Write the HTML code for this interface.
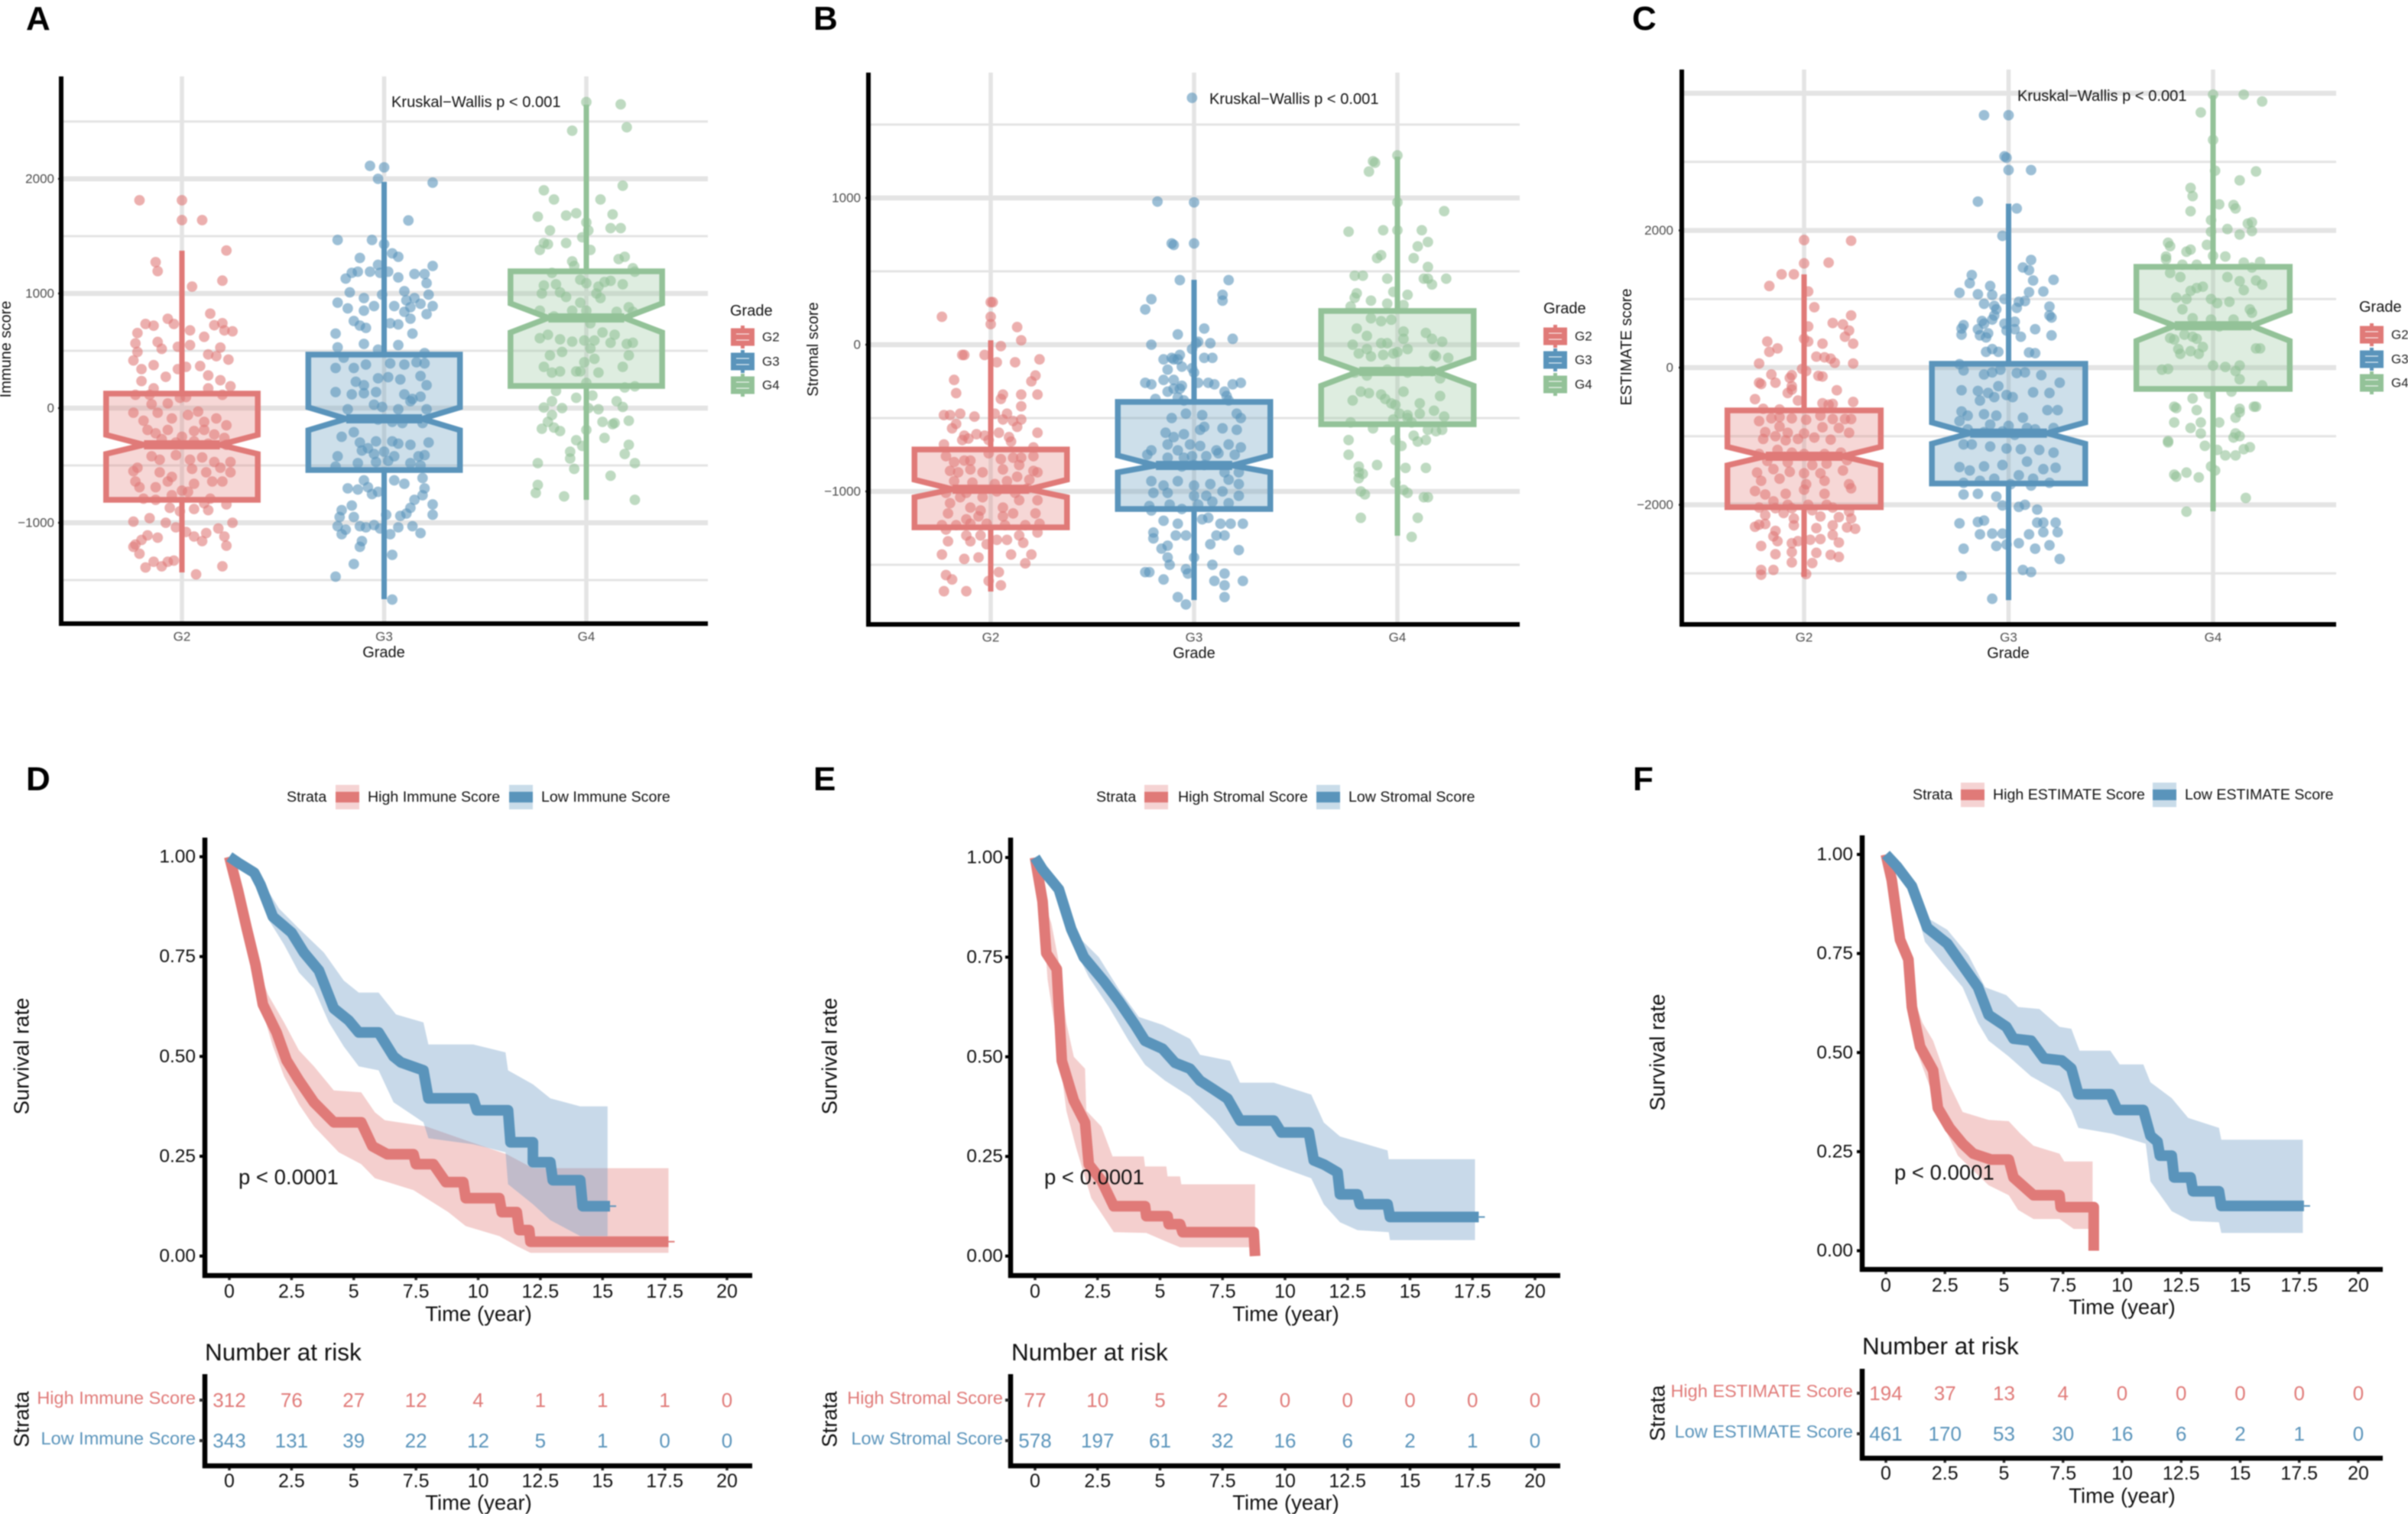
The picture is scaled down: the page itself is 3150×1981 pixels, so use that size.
<!DOCTYPE html>
<html lang="en">
<head>
<meta charset="utf-8">
<title>Immune, stromal and ESTIMATE scores by grade and survival</title>
<style>
html,body{margin:0;padding:0;background:#fff;width:3150px;height:1981px;overflow:hidden}
svg{display:block;filter:blur(0.7px)}
text{font-family:"Liberation Sans",Arial,sans-serif;dominant-baseline:central;fill:#000}
.letter{font-size:44px;font-weight:bold;dominant-baseline:auto}
.boxtitle{font-size:20px;fill:#111}
.kw{font-size:20.1px;fill:#111}
.km{font-size:27.5px;fill:#111}
.kmleg{font-size:19.6px;fill:#111}
.risk{font-size:31.5px;fill:#111}
.mid{text-anchor:middle}
</style>
</head>
<body>
<svg id="figure" xmlns="http://www.w3.org/2000/svg" width="3150" height="1981" viewBox="0 0 3150 1981">
<rect width="3150" height="1981" fill="#fff"/>
<g id="layer-charts"></g>
<g id="labels">
<text class="letter" x="34" y="39">A</text>
<text class="letter" x="1064" y="39">B</text>
<text class="letter" x="2135" y="39">C</text>
<text class="letter" x="34" y="1034">D</text>
<text class="letter" x="1064" y="1034">E</text>
<text class="letter" x="2136" y="1034">F</text>

<text class="boxtitle mid" transform="translate(8,457) rotate(-90)">Immune score</text>
<text class="boxtitle mid" transform="translate(1064,457) rotate(-90)">Stromal score</text>
<text class="boxtitle mid" transform="translate(2128,454) rotate(-90)">ESTIMATE score</text>
<text class="boxtitle mid" x="502" y="854">Grade</text>
<text class="boxtitle mid" x="1562" y="855">Grade</text>
<text class="boxtitle mid" x="2627" y="855">Grade</text>
<text class="kw" x="512" y="134">Kruskal−Wallis p &lt; 0.001</text>
<text class="kw" x="1582" y="130">Kruskal−Wallis p &lt; 0.001</text>
<text class="kw" x="2639" y="126">Kruskal−Wallis p &lt; 0.001</text>
<text class="boxtitle" x="955" y="407">Grade</text>
<text class="boxtitle" x="2019" y="404">Grade</text>
<text class="boxtitle" x="3086" y="402">Grade</text>

<text class="km mid" transform="translate(28,1382) rotate(-90)">Survival rate</text>
<text class="km mid" transform="translate(1085,1382) rotate(-90)">Survival rate</text>
<text class="km mid" transform="translate(2168,1377) rotate(-90)">Survival rate</text>
<text class="km mid" x="626" y="1719">Time (year)</text>
<text class="km mid" x="1682" y="1719">Time (year)</text>
<text class="km mid" x="2776" y="1710">Time (year)</text>
<text class="km mid" x="626" y="1966">Time (year)</text>
<text class="km mid" x="1682" y="1966">Time (year)</text>
<text class="km mid" x="2776" y="1957">Time (year)</text>
<text class="km" x="312" y="1540">p &lt; 0.0001</text>
<text class="km" x="1366" y="1540">p &lt; 0.0001</text>
<text class="km" x="2478" y="1534">p &lt; 0.0001</text>
<text class="risk" x="268" y="1769">Number at risk</text>
<text class="risk" x="1323" y="1769">Number at risk</text>
<text class="risk" x="2436" y="1761">Number at risk</text>
<text class="km mid" transform="translate(28,1857) rotate(-90)">Strata</text>
<text class="km mid" transform="translate(1085,1857) rotate(-90)">Strata</text>
<text class="km mid" transform="translate(2168,1849) rotate(-90)">Strata</text>

<text class="kmleg" x="375" y="1043">Strata</text>
<text class="kmleg" x="481" y="1043">High Immune Score</text>
<text class="kmleg" x="708" y="1043">Low Immune Score</text>
<text class="kmleg" x="1434" y="1043">Strata</text>
<text class="kmleg" x="1541" y="1043">High Stromal Score</text>
<text class="kmleg" x="1764" y="1043">Low Stromal Score</text>
<text class="kmleg" x="2502" y="1040">Strata</text>
<text class="kmleg" x="2607" y="1040">High ESTIMATE Score</text>
<text class="kmleg" x="2858" y="1040">Low ESTIMATE Score</text>
</g>
</svg>
<script>
// ---------- categories and tick labels ----------
const categories = ['G2','G3','G4'];
const immuneTicks = [2000,1000,0,-1000];
const immuneMinor = [2500,1500,500,-500,-1500];
const stromalTicks = [1000,0,-1000];
const stromalMinor = [1500,500,-500,-1500];
const estimateTicks = [2000,0,-2000];
const estimateGridMajor = [4000,2000,0,-2000];
const estimateMinor = [3000,1000,-1000,-3000];
const timeTicks = [0,2.5,5,7.5,10,12.5,15,17.5,20];
const survivalTicks = [1,0.75,0.5,0.25,0];

// ---------- box statistics (order G2,G3,G4) ----------
const immuneQ1 = [-800,-540,193];
const immuneMedian = [-320,-93,787];
const immuneQ3 = [127,467,1193];
const immuneNotchLow = [-400,-193,660];
const immuneNotchHigh = [-233,7,913];
const immuneWhiskerLow = [-1433,-1667,-800];
const immuneWhiskerHigh = [1373,1973,2647];

const stromalQ1 = [-1245,-1120,-542];
const stromalMedian = [-985,-823,-182];
const stromalQ3 = [-714,-390,230];
const stromalNotchLow = [-1040,-870,-280];
const stromalNotchHigh = [-920,-755,-90];
const stromalWhiskerLow = [-1682,-1740,-1302];
const stromalWhiskerHigh = [30,442,1281];

const estimateQ1 = [-2035,-1690,-310];
const estimateMedian = [-1292,-955,610];
const estimateQ3 = [-624,56,1470];
const estimateNotchLow = [-1425,-1110,390];
const estimateNotchHigh = [-1155,-800,825];
const estimateWhiskerLow = [-3050,-3390,-2095];
const estimateWhiskerHigh = [1360,2390,3970];

// ---------- jittered samples: [jitter % of category spacing, score] ----------
const immuneG2 = [[-21,1813],[0,1813],[0,1640],[10,1640],[22,1375],[-13,1273],[-12,1195],[5,1060],[20,1112],[14,824],[-18,734],[-14,719],[-7,779],[-4,734],[4,678],[16,723],[20,741],[21,678],[25,670],[-22,655],[-23,565],[-22,490],[-12,577],[-10,517],[-2,535],[4,550],[11,622],[19,528],[13,468],[17,453],[23,423],[-24,416],[-20,340],[-14,375],[-2,340],[2,360],[9,367],[13,285],[-20,236],[-8,273],[19,243],[24,191],[-14,172],[-23,116],[-16,116],[13,172],[2,97],[20,116],[-15,34],[-7,41],[-1,90],[-24,-40],[-19,-110],[-12,-40],[-5,-90],[3,-60],[8,-30],[11,-120],[17,-90],[22,-150],[-17,-190],[-13,-220],[-7,-190],[0,-250],[6,-200],[11,-190],[16,-230],[21,-260],[-10,-270],[-3,-300],[6,-290],[13,-310],[22,-320],[-22,-520],[-15,-420],[-11,-450],[-3,-410],[4,-450],[10,-430],[16,-470],[24,-470],[-24,-550],[-11,-560],[-5,-600],[5,-530],[12,-560],[19,-520],[24,-560],[-23,-640],[-21,-690],[-13,-690],[-7,-640],[0,-720],[6,-660],[15,-640],[20,-640],[-19,-790],[-13,-800],[-5,-760],[3,-730],[11,-830],[14,-790],[22,-840],[-6,-870],[-1,-900],[6,-880],[13,-890],[-24,-990],[-16,-960],[-8,-1000],[-3,-1040],[18,-1050],[25,-1000],[-23,-1190],[-20,-1150],[-17,-1110],[-12,-1130],[6,-1120],[12,-1090],[21,-1120],[22,-1200],[-24,-1210],[-21,-1270],[-18,-1390],[-14,-1340],[-10,-1380],[-7,-1340],[-4,-1330],[7,-1450],[20,-1380],[2,-1080],[10,-1160]];
const immuneG3 = [[-7,2113],[0,2100],[-3,2000],[24,1967],[12,1637],[-23,1467],[-6,1467],[0,1430],[4,1350],[7,1320],[-12,1310],[-3,1250],[24,1240],[-19,1130],[-16,1180],[-13,1190],[-7,1190],[-2,1180],[2,1190],[7,1140],[15,1170],[20,1170],[21,1090],[-17,1010],[-10,960],[-1,990],[10,1020],[11,940],[15,960],[22,990],[-23,920],[-18,870],[-10,850],[-5,890],[5,890],[10,840],[13,880],[18,910],[24,890],[21,820],[13,780],[-15,760],[-12,720],[-9,700],[3,740],[7,730],[-24,650],[14,650],[-10,560],[-23,530],[-3,510],[7,550],[20,480],[-20,440],[-15,350],[-24,350],[-9,380],[3,390],[10,380],[16,400],[20,390],[-14,230],[-10,200],[-3,260],[2,270],[8,250],[18,280],[21,200],[-24,140],[-16,120],[-10,130],[-4,140],[10,120],[14,80],[18,100],[-18,-10],[-5,30],[-1,10],[7,-10],[13,60],[21,-10],[-3,-100],[4,-120],[9,-130],[19,-130],[-21,-250],[-15,-210],[-12,-300],[-8,-350],[-4,-290],[4,-290],[7,-310],[13,-320],[22,-300],[-23,-420],[-11,-370],[-5,-400],[0,-380],[5,-420],[17,-420],[20,-410],[-24,-510],[-13,-480],[-4,-470],[2,-460],[13,-480],[18,-500],[-10,-630],[-8,-690],[-3,-730],[5,-630],[10,-660],[19,-610],[20,-700],[-18,-700],[-13,-710],[-6,-750],[-22,-950],[-16,-850],[-21,-890],[-15,-950],[-9,-1040],[-5,-1020],[1,-930],[8,-940],[11,-920],[24,-840],[24,-930],[19,-760],[15,-800],[13,-870],[-23,-1030],[-19,-1060],[-12,-1030],[-2,-1050],[3,-1100],[7,-1040],[14,-1030],[18,-1090],[-21,-1100],[-12,-1210],[-11,-1160],[4,-1280],[-15,-1360],[-24,-1470],[4,-1670]];
const immuneG4 = [[0,2670],[17,2650],[20,2450],[-7,2420],[18,1940],[-21,1900],[-16,1820],[7,1820],[-24,1670],[-10,1680],[-5,1700],[13,1690],[12,1570],[17,1570],[-18,1550],[0,1620],[1,1550],[-2,1490],[-21,1440],[-19,1430],[-10,1440],[2,1380],[-23,1380],[19,1320],[16,1300],[-7,1280],[-6,1240],[23,1220],[24,1190],[-17,1180],[-15,1080],[-21,1070],[-22,1000],[-13,1010],[-3,1120],[0,1090],[6,1060],[9,1100],[12,1110],[18,1080],[-10,970],[-3,920],[-7,850],[0,850],[5,1000],[7,960],[21,880],[23,840],[-23,850],[-16,800],[15,840],[2,740],[8,660],[14,640],[-19,640],[-23,610],[-13,600],[-7,580],[-1,590],[4,590],[12,570],[20,560],[23,570],[-18,460],[-12,490],[2,520],[21,460],[-21,360],[-17,310],[-13,320],[-5,320],[-3,320],[6,310],[18,360],[-1,400],[4,430],[0,220],[19,180],[24,190],[-15,150],[-5,90],[3,110],[-17,60],[-21,5],[-12,0],[1,0],[6,-10],[15,60],[18,10],[-17,-60],[-19,-120],[-16,-170],[-22,-180],[-13,-200],[0,-190],[8,-120],[13,-140],[14,-130],[21,-110],[-5,-280],[-2,-330],[-8,-380],[-8,-440],[9,-260],[21,-320],[19,-400],[-24,-480],[-6,-530],[12,-590],[24,-480],[-24,-670],[-25,-740],[-11,-770],[24,-800]];

const stromalG2 = [[0,290],[-24,190],[1,290],[0,190],[0,140],[13,120],[15,30],[5,-10],[-14,-70],[-13,-70],[-3,-70],[3,-120],[12,-120],[24,-100],[22,-210],[-18,-240],[20,-250],[-17,-330],[6,-340],[5,-370],[15,-340],[23,-340],[15,-420],[-23,-480],[-20,-480],[-15,-470],[-8,-490],[2,-470],[6,-510],[8,-470],[11,-520],[15,-510],[-19,-570],[-17,-540],[-13,-620],[-7,-610],[-3,-620],[4,-600],[9,-630],[13,-560],[23,-600],[-23,-680],[-14,-650],[-11,-640],[-1,-650],[10,-660],[21,-700],[-22,-760],[-18,-800],[-13,-790],[-10,-790],[-1,-740],[5,-780],[11,-770],[15,-770],[21,-760],[-20,-860],[-16,-870],[-10,-850],[-4,-870],[6,-850],[14,-820],[21,-860],[23,-870],[-18,-930],[-9,-940],[2,-950],[8,-930],[13,-900],[19,-920],[-22,-1010],[-15,-1040],[-12,-1010],[-4,-1040],[3,-1000],[12,-1010],[18,-980],[-20,-1080],[-10,-1110],[-5,-1130],[6,-1110],[14,-1060],[23,-1060],[-21,-1150],[-12,-1190],[-6,-1170],[6,-1170],[11,-1150],[22,-1150],[-24,-1230],[-17,-1230],[-10,-1220],[-2,-1220],[7,-1230],[17,-1230],[24,-1220],[-22,-1260],[-12,-1300],[-5,-1300],[3,-1330],[14,-1300],[23,-1280],[-21,-1340],[-10,-1340],[-2,-1360],[8,-1330],[16,-1350],[-24,-1430],[-13,-1460],[-6,-1450],[10,-1430],[20,-1430],[17,-1490],[-22,-1570],[-19,-1600],[-1,-1610],[4,-1550],[5,-1640],[-23,-1680],[-12,-1680]];
const stromalG3 = [[-1,1682],[-18,975],[0,970],[-11,690],[-10,680],[0,690],[-7,440],[17,440],[14,340],[14,300],[-21,310],[-24,240],[-8,70],[5,110],[19,40],[2,20],[1,10],[8,10],[-21,0],[-15,-100],[-11,-90],[-10,-100],[-8,-100],[-7,-70],[-1,-30],[5,-90],[9,-90],[-13,-170],[-6,-150],[-1,-160],[0,-190],[-24,-260],[-21,-270],[-15,-240],[-10,-240],[-6,-280],[2,-260],[7,-260],[10,-270],[19,-270],[23,-260],[-13,-320],[-10,-300],[-7,-300],[15,-320],[16,-350],[-19,-370],[-8,-360],[-5,-380],[17,-380],[-11,-500],[-4,-470],[4,-480],[21,-470],[23,-500],[-14,-600],[-10,-630],[-5,-610],[3,-580],[5,-560],[14,-570],[21,-580],[-21,-720],[-13,-680],[-8,-720],[-2,-680],[3,-690],[11,-720],[17,-680],[23,-700],[-23,-750],[-13,-770],[-5,-770],[-1,-760],[6,-760],[12,-740],[20,-750],[-6,-830],[0,-820],[5,-820],[15,-870],[22,-870],[-21,-930],[-15,-960],[-8,-930],[0,-960],[8,-950],[17,-920],[22,-950],[-20,-1010],[-13,-1010],[0,-1030],[6,-1030],[14,-1000],[22,-1030],[-22,-1100],[-12,-1090],[-6,-1120],[2,-1090],[9,-1070],[17,-1080],[-21,-1130],[-15,-1200],[-8,-1220],[4,-1190],[7,-1180],[13,-1220],[18,-1220],[24,-1220],[-20,-1280],[-9,-1300],[-4,-1300],[11,-1300],[15,-1300],[-20,-1320],[-13,-1370],[-16,-1390],[0,-1450],[8,-1360],[22,-1400],[-13,-1450],[-12,-1500],[-24,-1550],[-22,-1550],[-15,-1600],[-4,-1530],[-3,-1560],[9,-1500],[10,-1610],[15,-1560],[15,-1640],[24,-1610],[-8,-1720],[15,-1720],[-4,-1770]];
const stromalG4 = [[0,1290],[-12,1250],[-11,1240],[-14,1180],[0,970],[23,910],[-24,770],[-7,780],[0,780],[12,780],[15,700],[10,670],[-8,610],[-10,590],[8,590],[15,530],[-21,470],[-17,470],[-5,450],[13,450],[15,450],[17,410],[24,450],[-20,350],[-21,320],[-2,360],[5,340],[-13,300],[-5,280],[3,270],[-23,260],[-13,180],[-3,170],[-20,110],[-15,60],[-8,160],[-22,0],[-15,-30],[-8,10],[-5,10],[0,-50],[3,90],[3,40],[14,80],[17,40],[22,20],[-19,-60],[-13,-80],[-7,-70],[-2,-60],[5,-30],[18,-70],[25,-90],[19,-80],[-21,-190],[-15,-210],[-5,-170],[5,-190],[12,-180],[17,-180],[21,-230],[-18,-320],[-8,-340],[-6,-370],[-14,-330],[-3,-400],[3,-320],[-22,-380],[11,-400],[-1,-410],[21,-350],[1,-470],[5,-480],[11,-470],[18,-450],[23,-490],[5,-500],[-23,-530],[-12,-570],[-2,-510],[7,-530],[15,-580],[19,-590],[22,-580],[-1,-650],[8,-620],[10,-660],[14,-650],[-24,-650],[-24,-750],[2,-690],[-19,-830],[-10,-820],[4,-840],[14,-840],[-19,-870],[-19,-910],[-17,-880],[3,-990],[5,-1010],[13,-1040],[15,-1040],[-16,-1020],[-18,-1000],[-1,-940],[-18,-1180],[10,-1180],[7,-1310]];

const estimateG2 = [[0,1860],[23,1850],[0,1520],[12,1530],[-11,1360],[-5,1360],[-17,1190],[2,1110],[5,880],[23,760],[14,650],[19,630],[2,600],[-18,380],[22,540],[20,450],[24,350],[0,420],[2,380],[9,350],[-13,280],[-17,230],[10,150],[6,160],[13,130],[15,70],[24,60],[-22,60],[-16,-100],[-22,-220],[-21,-240],[-14,-220],[-6,-110],[-7,-150],[-1,-20],[1,-50],[7,-120],[9,-130],[-6,-270],[16,-330],[-6,-320],[-8,-370],[-24,-460],[-20,-600],[-12,-610],[-3,-480],[9,-520],[12,-540],[14,-530],[24,-500],[-22,-780],[-16,-740],[-12,-720],[-6,-740],[1,-760],[8,-700],[14,-750],[20,-750],[23,-750],[-19,-940],[-12,-860],[-8,-950],[0,-960],[9,-870],[17,-880],[22,-950],[-20,-1040],[-14,-1000],[-9,-1060],[-3,-1040],[5,-1020],[13,-1050],[-22,-1260],[-13,-1200],[-6,-1240],[0,-1260],[10,-1260],[18,-1240],[-18,-1360],[-8,-1380],[4,-1420],[11,-1400],[21,-1350],[-23,-1530],[-15,-1480],[-7,-1520],[0,-1540],[8,-1540],[19,-1500],[-21,-1650],[-12,-1620],[1,-1700],[10,-1650],[22,-1700],[-24,-1800],[-19,-1850],[-9,-1840],[0,-1780],[10,-1840],[23,-1760],[-15,-1950],[-8,-2000],[2,-2000],[11,-2000],[-22,-2040],[-14,-2050],[-6,-2050],[4,-2080],[14,-2040],[22,-2100],[-19,-2150],[-10,-2120],[-5,-2200],[8,-2170],[17,-2180],[23,-2200],[-24,-2320],[-22,-2290],[-19,-2280],[-14,-2380],[-5,-2300],[6,-2340],[14,-2300],[21,-2330],[25,-2350],[-15,-2460],[-13,-2530],[-6,-2560],[-3,-2530],[3,-2510],[8,-2500],[14,-2440],[17,-2550],[-21,-2600],[-14,-2720],[-6,-2690],[6,-2700],[13,-2730],[17,-2760],[-21,-2950],[-21,-3020],[-15,-2950],[-6,-2840],[4,-2850],[1,-3010]];
const estimateG3 = [[-12,3680],[0,3680],[-1,3060],[-2,3080],[0,2880],[11,2880],[-15,2420],[4,2320],[-3,1920],[11,1570],[7,1460],[10,1420],[12,1270],[22,1280],[-18,1350],[-19,1230],[-24,1090],[-15,1070],[-9,1190],[-8,1060],[10,1100],[17,1110],[-12,930],[-7,900],[-6,850],[-2,1000],[5,960],[8,970],[4,870],[20,890],[20,760],[21,730],[-7,760],[-13,680],[-12,640],[-22,620],[-8,700],[-2,640],[3,670],[-23,570],[-15,560],[-10,500],[-14,470],[-23,480],[-11,440],[-1,540],[3,560],[13,560],[21,470],[6,450],[-5,230],[-11,230],[-8,270],[10,220],[13,210],[-24,50],[-22,-40],[-12,-100],[-8,-70],[-4,-30],[4,-80],[8,-70],[16,-110],[25,-220],[-23,-330],[-15,-340],[-10,-370],[-5,-270],[-1,-400],[12,-360],[20,-370],[-14,-480],[-7,-430],[2,-430],[-23,-640],[-20,-700],[-12,-680],[-6,-700],[7,-730],[19,-620],[24,-620],[-24,-780],[-9,-830],[0,-850],[9,-880],[-20,-900],[-12,-940],[-3,-930],[3,-980],[13,-900],[22,-880],[-22,-1120],[-18,-1120],[-9,-1150],[-1,-1180],[6,-1190],[15,-1200],[22,-1240],[-24,-1450],[-19,-1500],[-12,-1440],[-3,-1420],[9,-1370],[17,-1480],[23,-1460],[-22,-1680],[-14,-1650],[-7,-1620],[5,-1570],[12,-1620],[20,-1680],[-22,-1850],[-15,-1840],[-6,-1880],[1,-1700],[11,-1720],[-24,-2270],[-12,-2230],[-15,-2250],[-3,-2010],[5,-2030],[8,-2000],[14,-2070],[14,-2260],[17,-2260],[-14,-2430],[-8,-2420],[-3,-2420],[10,-2430],[17,-2400],[23,-2260],[24,-2400],[-22,-2640],[-6,-2600],[-1,-2580],[5,-2560],[13,-2640],[20,-2590],[25,-2790],[-23,-3040],[7,-2950],[11,-2980],[-8,-3370]];
const estimateG4 = [[0,3980],[15,3980],[24,3880],[-6,3720],[0,3320],[1,2870],[13,2730],[21,2860],[-11,2620],[-10,2500],[-11,2280],[3,2380],[10,2370],[11,2320],[-1,2150],[17,2100],[19,2120],[-1,1980],[7,2020],[13,1940],[19,1990],[-22,1820],[-21,1770],[-11,1720],[-13,1690],[-3,1790],[0,1630],[6,1620],[-23,1620],[-23,1580],[-15,1500],[-8,1500],[15,1530],[23,1540],[19,1460],[-21,1380],[-16,1320],[7,1320],[13,1260],[21,1270],[24,1210],[-5,1180],[-8,1160],[-11,1120],[15,1130],[-18,1020],[-13,1000],[2,940],[8,960],[-1,1000],[-15,850],[18,850],[19,800],[-10,720],[-1,700],[3,600],[10,700],[-19,410],[-21,430],[-14,480],[-10,450],[-8,420],[-5,300],[-17,270],[-16,200],[-11,240],[-7,200],[0,30],[6,10],[13,30],[11,-50],[21,280],[23,280],[-25,-30],[-22,-20],[13,-170],[24,-260],[-2,-380],[9,-350],[-10,-450],[13,-600],[-19,-570],[-18,-590],[11,-730],[13,-650],[-8,-620],[20,-570],[21,-570],[-19,-800],[-6,-800],[-11,-880],[-6,-960],[3,-800],[10,-1020],[11,-960],[13,-1000],[-22,-1070],[-22,-1090],[-4,-1140],[2,-1200],[6,-1280],[11,-1280],[15,-1190],[18,-1160],[1,-1500],[-19,-1560],[-18,-1590],[-7,-1600],[-13,-1530],[-1,-1440],[16,-1900],[-13,-2100]];

// ---------- survival curves: [time in years, survival] ----------
const immuneHigh = [[0,1],[.35,.915],[.7,.82],[1.05,.73],[1.35,.63],[1.9,.56],[2.3,.49],[2.8,.44],[3.4,.385],[4.2,.335],[5.3,.335],[5.75,.275],[6.35,.255],[7.4,.255],[7.5,.23],[8.2,.23],[8.7,.185],[9.4,.185],[9.5,.145],[10.85,.145],[10.95,.11],[11.55,.11],[11.65,.065],[12.05,.065],[12.1,.036],[17.65,.036]];
const immuneHighUpper = [[0,1],[.35,.92],[.7,.83],[1.05,.74],[1.55,.655],[2.2,.585],[2.8,.515],[3.4,.475],[4.2,.415],[5.3,.41],[5.85,.36],[6.25,.34],[7.9,.325],[9.5,.29],[11.15,.255],[12.2,.22],[17.65,.22]];
const immuneHighLower = [[0,1],[.35,.91],[.7,.81],[1.05,.72],[1.35,.61],[1.75,.525],[2.2,.45],[2.8,.38],[3.4,.325],[4.4,.26],[5.3,.23],[5.85,.195],[7.4,.165],[8.8,.11],[9.5,.075],[10.85,.05],[11.55,.025],[12.1,.008],[17.65,.008]];
const immuneLow = [[0,1],[.35,.985],[1,.96],[1.25,.93],[1.75,.85],[2.5,.81],[3,.76],[3.6,.715],[4.2,.62],[4.8,.59],[5.2,.56],[6,.56],[6.6,.5],[6.9,.485],[7.8,.465],[8,.395],[9.8,.395],[9.95,.365],[11.2,.365],[11.3,.285],[12.2,.285],[12.2,.235],[12.9,.235],[13,.19],[14.1,.19],[14.2,.125],[15.3,.125]];
const immuneLowUpper = [[0,1],[1,.97],[1.25,.945],[2,.87],[2.8,.82],[3.8,.76],[4.6,.69],[5.2,.66],[6,.66],[6.7,.605],[7.8,.585],[8,.53],[9.8,.53],[11.1,.51],[11.2,.465],[12.2,.43],[12.9,.395],[14.1,.375],[15.2,.375]];
const immuneLowLower = [[0,1],[1,.95],[1.6,.84],[2.2,.78],[2.8,.71],[3.4,.67],[4,.585],[4.6,.525],[5.2,.475],[6,.465],[6.6,.385],[7.8,.335],[8,.295],[9.8,.28],[11.1,.26],[11.2,.18],[12.2,.13],[12.9,.09],[14.1,.05],[15.2,.05]];

const stromalHigh = [[0,1],[.3,.89],[.45,.76],[.87,.72],[1.07,.49],[1.55,.39],[2,.335],[2.15,.23],[2.65,.19],[3.15,.125],[4.4,.125],[4.45,.1],[5.3,.1],[5.35,.08],[5.8,.08],[5.9,.06],[8.75,.06],[8.8,0]];
const stromalHighUpper = [[0,1],[.3,.9],[.65,.835],[.93,.745],[1.25,.585],[1.55,.5],[2,.47],[2.05,.365],[2.65,.325],[3.1,.25],[4.35,.25],[4.4,.225],[5.25,.225],[5.3,.2],[5.8,.2],[5.85,.18],[8.8,.18]];
const stromalHighLower = [[0,1],[.3,.88],[.5,.695],[1.03,.475],[1.25,.365],[1.65,.27],[2.25,.145],[2.75,.098],[3.15,.06],[4.45,.058],[5.3,.035],[5.8,.022],[8.8,.022]];
const stromalLow = [[0,1],[.3,.97],[.95,.92],[1.45,.82],[1.95,.75],[2.75,.69],[3.35,.64],[4,.58],[4.4,.54],[5.1,.52],[5.6,.485],[6.2,.47],[6.6,.44],[7.1,.42],[7.7,.395],[8.2,.34],[9.55,.34],[9.85,.31],[10.95,.31],[11.15,.24],[11.55,.23],[12.1,.21],[12.2,.155],[12.9,.155],[13,.13],[14.1,.13],[14.2,.098],[17.75,.098]];
const stromalLowUpper = [[0,1],[.95,.93],[1.75,.8],[2.55,.75],[3.35,.67],[4.15,.6],[5.1,.58],[6.2,.545],[6.6,.505],[7.8,.49],[8.2,.435],[9.55,.435],[11.05,.405],[11.55,.335],[12.2,.3],[14.1,.265],[14.15,.243],[17.6,.243]];
const stromalLowLower = [[0,1],[.95,.91],[1.45,.79],[2.15,.7],[2.95,.625],[3.75,.54],[4.4,.48],[5.2,.44],[6.2,.4],[7.2,.34],[8.2,.265],[9.75,.225],[11.05,.195],[11.55,.13],[12.2,.085],[12.9,.065],[14.15,.06],[14.2,.04],[17.6,.04]];

const estimateHigh = [[0,1],[.25,.935],[.6,.785],[.95,.735],[1.1,.615],[1.45,.515],[2,.455],[2.2,.36],[2.7,.31],[3.25,.27],[3.7,.245],[4.45,.23],[5.2,.23],[5.4,.185],[6.25,.14],[7.35,.14],[7.4,.11],[8.8,.11],[8.8,0]];
const estimateHighUpper = [[0,1],[.6,.8],[.95,.74],[1.1,.65],[1.55,.575],[2,.53],[2.6,.43],[3.25,.35],[4.35,.33],[5.2,.327],[5.7,.295],[6.25,.265],[7.35,.245],[7.55,.225],[8.75,.225]];
const estimateHighLower = [[0,1],[.6,.77],[.95,.72],[1.3,.505],[1.85,.415],[2.4,.32],[3.05,.24],[4.35,.165],[5.2,.14],[5.6,.103],[6.25,.08],[7.35,.08],[7.95,.055],[8.75,.055]];
const estimateLow = [[0,1],[.47,.97],[1.1,.92],[1.75,.815],[2.6,.775],[3.25,.72],[3.9,.665],[4.35,.595],[5.1,.565],[5.4,.535],[6.15,.53],[6.7,.485],[7.45,.48],[7.85,.46],[8.15,.395],[9.5,.395],[9.8,.355],[10.9,.355],[11.2,.29],[11.5,.275],[11.6,.24],[12.1,.24],[12.2,.185],[12.9,.185],[13,.15],[14.1,.15],[14.2,.113],[17.7,.113]];
const estimateLowUpper = [[0,1],[1.1,.93],[1.75,.84],[2.6,.81],[3.5,.745],[4.2,.665],[5.1,.645],[5.6,.615],[6.5,.61],[7.35,.565],[7.85,.56],[8.2,.505],[9.5,.505],[9.9,.47],[10.9,.47],[11.2,.425],[12.1,.385],[12.8,.335],[14.1,.31],[14.2,.28],[17.65,.28]];
const estimateLowLower = [[0,1],[1.1,.91],[1.65,.78],[2.4,.725],[3.25,.665],[3.9,.575],[4.35,.53],[5.2,.49],[6.15,.44],[7.35,.4],[7.85,.355],[8.15,.31],[9.6,.295],[11,.27],[11.2,.175],[12.1,.1],[12.9,.075],[14.1,.072],[14.2,.045],[17.65,.045]];

// ---------- number at risk ----------
const immuneHighRisk = [312,76,27,12,4,1,1,1,0];
const immuneLowRisk = [343,131,39,22,12,5,1,0,0];
const stromalHighRisk = [77,10,5,2,0,0,0,0,0];
const stromalLowRisk = [578,197,61,32,16,6,2,1,0];
const estimateHighRisk = [194,37,13,4,0,0,0,0,0];
const estimateLowRisk = [461,170,53,30,16,6,2,1,0];

// ---------- drawing ----------
const NS = 'http://www.w3.org/2000/svg';
const root = document.getElementById('layer-charts');
const RED = '#E07A78', BLUE = '#5A94BB', GREEN = '#93C298';
const GROUP_COLORS = [RED, BLUE, GREEN];
const GRID = '#E4E4E4';

function make(tag, attrs, parent) {
  const el = document.createElementNS(NS, tag);
  for (const k in attrs) el.setAttribute(k, attrs[k]);
  parent.appendChild(el);
  return el;
}
function label(parent, name, x, y, str, size, fill, anchor) {
  const el = make('text', {x: x, y: y, 'font-size': size, 'text-anchor': anchor || 'middle'}, parent);
  el.style.fill = fill;
  el.textContent = str;
  
  
  return el;
}
function rule(parent, name, x1, y1, x2, y2, stroke, width) {
  const el = make('line', {x1: x1, y1: y1, x2: x2, y2: y2, stroke: stroke, 'stroke-width': width}, parent);
  
  
  return el;
}

function drawBoxPanel(p) {
  const g = make('g', {}, root);
  
  
  const yPos = v => p.yZero - v * p.pxPerUnit;
  const xPos = i => p.xFirst + i * p.catStep;

  p.minor.forEach(v => rule(g, p.id + '-gridline-minor', p.left, yPos(v), p.right, yPos(v), GRID, 3));
  p.major.forEach(v => rule(g, p.id + '-gridline-major', p.left, yPos(v), p.right, yPos(v), GRID, 6.5));
  categories.forEach((c, i) => rule(g, p.id + '-gridline-' + c, xPos(i), p.top, xPos(i), p.axisY, GRID, 5.5));

  p.samples.forEach((pts, i) => {
    pts.forEach(pt => {
      const dot = make('circle', {cx: xPos(i) + pt[0] / 100 * p.catStep, cy: yPos(pt[1]), r: 6.9, fill: GROUP_COLORS[i], 'fill-opacity': 0.6}, g);
      
      
    });
  });

  categories.forEach((c, i) => {
    const col = GROUP_COLORS[i], cx = xPos(i), hw = 0.375 * p.catStep, nw = hw / 2;
    rule(g, p.id + '-whisker-high-' + c, cx, yPos(p.whiskerHigh[i]), cx, yPos(p.q3[i]), col, 7);
    rule(g, p.id + '-whisker-low-' + c, cx, yPos(p.q1[i]), cx, yPos(p.whiskerLow[i]), col, 7);
    const pts = [
      [cx - hw, yPos(p.q3[i])], [cx + hw, yPos(p.q3[i])], [cx + hw, yPos(p.notchHigh[i])],
      [cx + nw, yPos(p.median[i])], [cx + hw, yPos(p.notchLow[i])], [cx + hw, yPos(p.q1[i])],
      [cx - hw, yPos(p.q1[i])], [cx - hw, yPos(p.notchLow[i])], [cx - nw, yPos(p.median[i])],
      [cx - hw, yPos(p.notchHigh[i])]
    ].map(a => a.join(',')).join(' ');
    const box = make('polygon', {points: pts, fill: col, 'fill-opacity': 0.3, stroke: col, 'stroke-width': 7.5, 'stroke-linejoin': 'miter'}, g);
    
    
    rule(g, p.id + '-median-' + c, cx - nw, yPos(p.median[i]), cx + nw, yPos(p.median[i]), col, 12);
    label(g, p.id + '-x-tick-label-' + c, cx, p.axisY + 17, c, 17, '#4D4D4D');
  });

  p.ticks.forEach(v => {
    rule(g, p.id + '-y-tick', p.left - 6, yPos(v), p.left - 2, yPos(v), '#333', 2.5);
    label(g, p.id + '-y-tick-label', p.tickRight, yPos(v), String(v).replace('-', '\u2212'), 17, '#4D4D4D', 'end');
  });
  rule(g, p.id + '-y-axis', p.left - 2, p.top, p.left - 2, p.axisY + 3, '#000', 6);
  rule(g, p.id + '-x-axis', p.left - 5, p.axisY, p.right, p.axisY, '#000', 6);

  categories.forEach((c, i) => {
    const col = GROUP_COLORS[i], ky = p.legendY[i];
    const key = make('rect', {x: p.legendX, y: ky - 11.5, width: 31, height: 23, fill: col}, g);
    
    
    rule(g, p.id + '-legend-key-whisker-' + c, p.legendX + 15.5, ky - 15, p.legendX + 15.5, ky + 15, col, 5);
    rule(g, p.id + '-legend-key-line-' + c, p.legendX + 7, ky - 4, p.legendX + 24, ky - 4, '#fff', 1);
    rule(g, p.id + '-legend-key-line-' + c, p.legendX + 7, ky + 4, p.legendX + 24, ky + 4, '#fff', 1);
    label(g, p.id + '-legend-label-' + c, p.legendX + 41, ky, c, 17, '#222', 'start');
  });
}

function pathFrom(points, xPos, yPos) {
  return points.map((a, i) => (i ? 'L' : 'M') + xPos(a[0]).toFixed(1) + ' ' + yPos(a[1]).toFixed(1)).join('');
}

function drawKmPanel(p) {
  const g = make('g', {}, root);
  
  
  const xPos = t => p.xZero + t * p.pxPerYear;
  const yPos = s => p.yZero - s * (p.yZero - p.yOne);
  const strata = [
    {key: 'high', color: RED, line: p.high, upper: p.highUpper, lower: p.highLower, risk: p.highRisk, name: p.highName, row: p.rowHigh},
    {key: 'low', color: BLUE, line: p.low, upper: p.lowUpper, lower: p.lowLower, risk: p.lowRisk, name: p.lowName, row: p.rowLow}
  ];
  strata.forEach(s => {
    const d = pathFrom(s.upper, xPos, yPos) + pathFrom(s.lower.slice().reverse(), xPos, yPos).replace('M', 'L') + 'Z';
    const band = make('path', {d: d, fill: s.key === 'high' ? '#E07A78' : '#6F9CC4', 'fill-opacity': s.key === 'high' ? 0.36 : 0.38}, g);
    
    
  });
  strata.forEach(s => {
    const curve = make('path', {d: pathFrom(s.line, xPos, yPos), fill: 'none', stroke: s.color, 'stroke-width': 14, 'stroke-linejoin': 'round'}, g);
    
    
    const end = s.line[s.line.length - 1];
    if (end[1] > 0) rule(g, p.id + '-censor-mark-' + s.key, xPos(end[0]), yPos(end[1]), xPos(end[0]) + 8, yPos(end[1]), s.color, 2);
  });

  survivalTicks.forEach(v => {
    rule(g, p.id + '-y-tick', p.left - 7, yPos(v), p.left - 2, yPos(v), '#000', 4);
    label(g, p.id + '-y-tick-label', p.labelRight, yPos(v), v.toFixed(2), 24.5, '#111', 'end');
  });
  timeTicks.forEach(t => {
    rule(g, p.id + '-x-tick', xPos(t), p.axisY, xPos(t), p.axisY + 6, '#333', 3.5);
    label(g, p.id + '-x-tick-label', xPos(t), p.axisY + 21, String(t), 25, '#111');
    rule(g, p.id + '-risk-x-tick', xPos(t), p.riskAxis, xPos(t), p.riskAxis + 6, '#333', 3.5);
    label(g, p.id + '-risk-x-tick-label', xPos(t), p.riskAxis + 20, String(t), 25, '#111');
  });
  rule(g, p.id + '-y-axis', p.left, p.top, p.left, p.axisY + 3, '#000', 6.5);
  rule(g, p.id + '-x-axis', p.left - 3, p.axisY, p.right, p.axisY, '#000', 6.5);
  rule(g, p.id + '-risk-y-axis', p.left, p.riskTop, p.left, p.riskAxis + 3, '#000', 6.5);
  rule(g, p.id + '-risk-x-axis', p.left - 3, p.riskAxis, p.right, p.riskAxis, '#000', 6.5);

  strata.forEach(s => {
    rule(g, p.id + '-risk-row-tick', p.left - 7, s.row, p.left - 2, s.row, '#333', 4);
    label(g, p.id + '-risk-row-label-' + s.key, p.labelRight, s.row - 3, s.name, 23.5, s.color, 'end');
    s.risk.forEach((n, i) => label(g, p.id + '-risk-count-' + s.key, xPos(timeTicks[i]), s.row, String(n), 26, s.color));
  });

  [[p.legendHighX, RED, 'high'], [p.legendLowX, BLUE, 'low']].forEach(k => {
    const sw = make('rect', {x: k[0], y: p.legendY - 16, width: 31, height: 32, fill: k[1], 'fill-opacity': 0.33}, g);
    
    
    const bar = make('rect', {x: k[0], y: p.legendY - 7, width: 31, height: 14, fill: k[1]}, g);
    
    
  });
}

drawBoxPanel({id:'a', xFirst:238, catStep:264.5, yZero:534, pxPerUnit:0.15, left:82, right:926, top:100, axisY:816, tickRight:71,
  major:immuneTicks, minor:immuneMinor, ticks:immuneTicks, samples:[immuneG2,immuneG3,immuneG4],
  q1:immuneQ1, median:immuneMedian, q3:immuneQ3, notchLow:immuneNotchLow, notchHigh:immuneNotchHigh, whiskerLow:immuneWhiskerLow, whiskerHigh:immuneWhiskerHigh,
  legendX:956, legendY:[441,473,504]});
drawBoxPanel({id:'b', xFirst:1296, catStep:266, yZero:451, pxPerUnit:0.192, left:1138, right:1988, top:95, axisY:817, tickRight:1126,
  major:stromalTicks, minor:stromalMinor, ticks:stromalTicks, samples:[stromalG2,stromalG3,stromalG4],
  q1:stromalQ1, median:stromalMedian, q3:stromalQ3, notchLow:stromalNotchLow, notchHigh:stromalNotchHigh, whiskerLow:stromalWhiskerLow, whiskerHigh:stromalWhiskerHigh,
  legendX:2019, legendY:[440,471,503]});
drawBoxPanel({id:'c', xFirst:2360, catStep:267.5, yZero:481, pxPerUnit:0.08975, left:2202, right:3056, top:91, axisY:817, tickRight:2189,
  major:estimateGridMajor, minor:estimateMinor, ticks:estimateTicks, samples:[estimateG2,estimateG3,estimateG4],
  q1:estimateQ1, median:estimateMedian, q3:estimateQ3, notchLow:estimateNotchLow, notchHigh:estimateNotchHigh, whiskerLow:estimateWhiskerLow, whiskerHigh:estimateWhiskerHigh,
  legendX:3087, legendY:[438,470,501]});

drawKmPanel({id:'d', xZero:300, pxPerYear:32.55, yOne:1121, yZero:1643.5, left:268, right:984, top:1096, axisY:1669, riskTop:1798, riskAxis:1918, rowHigh:1832, rowLow:1885, labelRight:256,
  high:immuneHigh, highUpper:immuneHighUpper, highLower:immuneHighLower, low:immuneLow, lowUpper:immuneLowUpper, lowLower:immuneLowLower,
  highRisk:immuneHighRisk, lowRisk:immuneLowRisk, highName:'High Immune Score', lowName:'Low Immune Score', legendHighX:439, legendLowX:666, legendY:1043});
drawKmPanel({id:'e', xZero:1354, pxPerYear:32.7, yOne:1122, yZero:1643.5, left:1322, right:2041, top:1096, axisY:1669, riskTop:1798, riskAxis:1918, rowHigh:1832, rowLow:1885, labelRight:1312,
  high:stromalHigh, highUpper:stromalHighUpper, highLower:stromalHighLower, low:stromalLow, lowUpper:stromalLowUpper, lowLower:stromalLowLower,
  highRisk:stromalHighRisk, lowRisk:stromalLowRisk, highName:'High Stromal Score', lowName:'Low Stromal Score', legendHighX:1497, legendLowX:1722, legendY:1043});
drawKmPanel({id:'f', xZero:2467, pxPerYear:30.9, yOne:1118, yZero:1636.5, left:2436, right:3117, top:1093, axisY:1661, riskTop:1791, riskAxis:1908, rowHigh:1823, rowLow:1876, labelRight:2424,
  high:estimateHigh, highUpper:estimateHighUpper, highLower:estimateHighLower, low:estimateLow, lowUpper:estimateLowUpper, lowLower:estimateLowLower,
  highRisk:estimateHighRisk, lowRisk:estimateLowRisk, highName:'High ESTIMATE Score', lowName:'Low ESTIMATE Score', legendHighX:2565, legendLowX:2816, legendY:1040});
</script>
</body>
</html>
